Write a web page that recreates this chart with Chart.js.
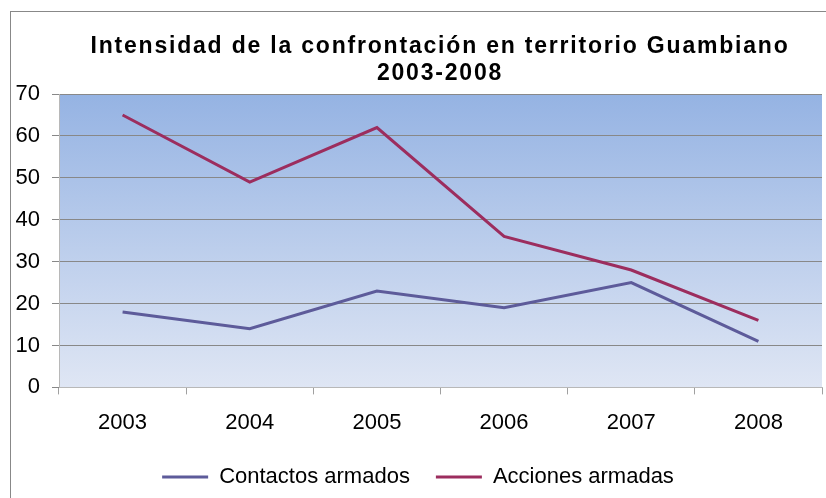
<!DOCTYPE html>
<html>
<head>
  <title>Intensidad de la confrontación</title>
  <script src="https://cdn.jsdelivr.net/npm/chart.js"></script>
  <style>
    body { margin: 0; background: #fff; }
    #wrap { position: relative; width: 826px; height: 498px; overflow: hidden; }
    #frame { position: absolute; left: 10px; top: 11px; width: 830px; height: 500px; border: 1px solid #888; }
    canvas { position: absolute; left: 0; top: 0; }
  </style>
</head>
<body>
  <div id="wrap">
    <div id="frame"></div>
    <canvas id="chart" width="826" height="498"></canvas>
  </div>
  <script>
    const titleLines = ['Intensidad de la confrontación en territorio Guambiano', '2003-2008'];
    const years = ['2003', '2004', '2005', '2006', '2007', '2008'];
    const contactos = [18, 14, 23, 19, 25, 11];
    const acciones = [65, 49, 62, 36, 28, 16];

    const font = 'Liberation Sans, Arial, sans-serif';

    // fondo degradado del área de trazado
    const plotBg = {
      id: 'plotBg',
      beforeDraw(chart) {
        const { ctx, chartArea: a } = chart;
        const g = ctx.createLinearGradient(0, a.top, 0, a.bottom);
        g.addColorStop(0, '#95b3e3');
        g.addColorStop(1, '#dfe6f4');
        ctx.save();
        ctx.fillStyle = g;
        ctx.fillRect(a.left, a.top, a.right - a.left, a.bottom - a.top);
        ctx.restore();
      }
    };

    // título con espaciado entre letras (el plugin de título no lo permite)
    const spacedTitle = {
      id: 'spacedTitle',
      afterDraw(chart) {
        const ctx = chart.ctx;
        ctx.save();
        ctx.font = 'bold 23px ' + font;
        ctx.letterSpacing = '1.8px';
        ctx.fillStyle = '#000';
        ctx.textAlign = 'center';
        ctx.textBaseline = 'alphabetic';
        ctx.fillText(titleLines[0], 440, 53);
        ctx.fillText(titleLines[1], 440, 80);
        ctx.restore();
      }
    };

    new Chart(document.getElementById('chart'), {
      type: 'line',
      data: {
        labels: years,
        datasets: [
          { label: 'Contactos armados', data: contactos, borderColor: '#5d5b9a', backgroundColor: '#5d5b9a', borderWidth: 3, pointRadius: 0, tension: 0 },
          { label: 'Acciones armadas', data: acciones, borderColor: '#9c2d5e', backgroundColor: '#9c2d5e', borderWidth: 3, pointRadius: 0, tension: 0 }
        ]
      },
      options: {
        responsive: false,
        animation: false,
        layout: { padding: { top: 94, left: 14, right: 4, bottom: 0 } },
        plugins: {
          title: { display: false },
          legend: {
            position: 'bottom',
            labels: {
              color: '#000',
              font: { family: font, size: 22 },
              boxWidth: 46,
              boxHeight: 3,
              padding: 26,
              generateLabels(chart) {
                return chart.data.datasets.map((ds, i) => ({
                  text: ds.label, fillStyle: ds.borderColor, strokeStyle: ds.borderColor,
                  lineWidth: 0, datasetIndex: i, fontColor: '#000'
                }));
              }
            }
          },
          tooltip: { enabled: false }
        },
        scales: {
          x: {
            offset: true,
            grid: { offset: true, drawOnChartArea: false, drawTicks: true, tickLength: 7, color: '#a0a0a0' },
            border: { color: '#b8b8b8' },
            ticks: { color: '#000', font: { family: font, size: 22 }, padding: 15 },
            afterFit(scale) { scale.height = 52.6; }
          },
          y: {
            min: 0, max: 70,
            ticks: { stepSize: 10, color: '#000', font: { family: font, size: 22 }, padding: 12 },
            grid: { color: '#888', tickLength: 7 },
            border: { color: '#b8b8b8' },
            afterFit(scale) { scale.width = 45; }
          }
        }
      },
      plugins: [plotBg, spacedTitle]
    });
  </script>
</body>
</html>
